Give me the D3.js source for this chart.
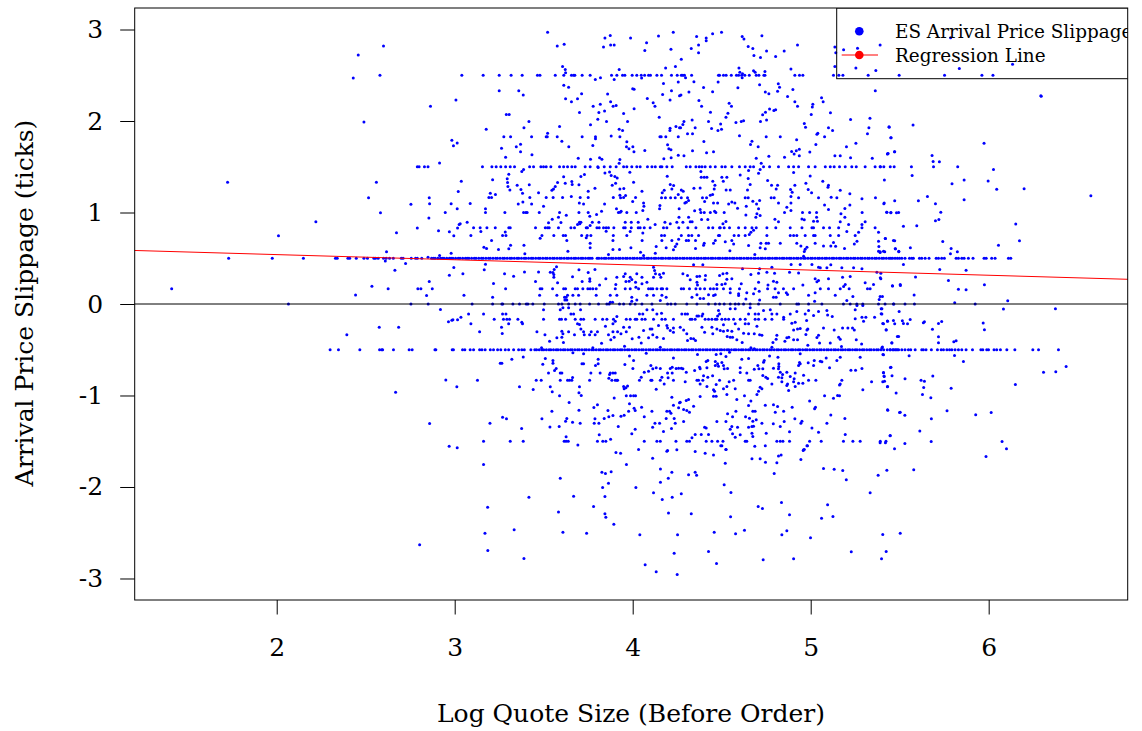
<!DOCTYPE html>
<html>
<head>
<meta charset="utf-8">
<script src="https://cdn.jsdelivr.net/npm/d3@7/dist/d3.min.js"></script>
<style>
  html, body { margin: 0; background: #fff; }
  svg { display: block; }
  text { font-family: "DejaVu Serif", serif; fill: #000; }
</style>
</head>
<body>
<div id="chart"></div>
<script>
const xTicks = [2, 3, 4, 5, 6];
const yTicks = [-3, -2, -1, 0, 1, 2, 3];
const xTitle = "Log Quote Size (Before Order)";
const yTitle = "Arrival Price Slippage (ticks)";
const legendLabels = ["ES Arrival Price Slippage", "Regression Line"];

// regression line, read at the two edges of the plot
const regX = [1.2022, 6.781];
const regY = [0.585, 0.27];

// slippage sits on tick fractions a lot, so these rows are x values only
const rowUp25 = [2.58,3.04,3.16,3.25,3.317,3.379,3.465,3.479,3.565,3.613,3.656,3.668,3.675,3.716,3.761,3.881,3.911,3.943,3.956,3.997,4.023,4.048,4.067,4.089,4.10,4.136,4.162,4.218,4.25,4.273,4.282,4.291,4.331,4.482,4.488,4.51,4.525,4.554,4.583,4.595,4.612,4.63,4.655,4.694,4.709,4.737,4.743,4.911,4.937,4.956,5.128,5.158,5.181,5.323,5.497,5.752,5.962,6.024];
const rowUp15 = [2.79,2.80,2.83,2.85,3.156,3.209,3.233,3.259,3.286,3.312,3.336,3.421,3.443,3.484,3.499,3.514,3.54,3.589,3.612,3.634,3.658,3.677,3.733,3.761,3.804,3.84,3.874,3.907,3.949,3.967,3.995,4.023,4.042,4.083,4.108,4.127,4.155,4.164,4.192,4.222,4.301,4.323,4.355,4.374,4.389,4.407,4.436,4.464,4.501,4.52,4.557,4.6,4.632,4.66,4.679,4.735,4.769,4.819,4.876,4.904,4.932,4.988,5.025,5.082,5.11,5.132,5.162,5.194,5.231,5.256,5.306,5.362,5.39,5.392,5.411,5.447,5.469,5.566,5.69,5.826];
const rowUp1 = [3.173,3.282,3.387,3.4,3.407,3.475,3.589,3.698,3.75,3.92,3.967,4.02,4.383,4.402,4.436,4.467,4.514,4.853,4.954,4.994,5.033,5.289,5.451,5.494];
const rowUp83 = [3.106,3.143,3.181,3.228,3.304,3.312,3.454,3.509,3.522,3.531,3.583,3.653,3.673,3.739,3.746,3.799,3.812,3.836,3.851,3.864,3.894,3.949,3.958,3.992,4.031,4.042,4.065,4.098,4.173,4.192,4.259,4.31,4.355,4.426,4.45,4.488,4.492,4.514,4.544,4.595,4.632,4.67,4.694,4.754,4.804,4.885,4.951,5.007,5.016,5.072,5.106,5.157,5.288,5.362];
const rowUp75 = [3.091,3.269,3.288,3.49,3.557,3.61,3.623,3.713,3.744,3.765,3.891,3.967,4.162,4.179,4.273,4.314,4.332,4.37,4.482,4.488,4.57,4.595,4.632,4.754,4.885,4.904,4.922,4.969,5.016,5.025,5.11,5.157,5.25];
const rowUp50 = [1.73,1.975,2.15,2.33,2.34,2.40,2.41,2.447,2.49,2.51,2.546,2.555,2.57,2.60,2.615,2.634,2.655,2.70,2.71,2.756,2.78,2.79,2.815,
  2.87,2.88,2.89,2.905,2.92,2.93,2.94,2.955,2.97,2.98,2.99,3.005,3.02,3.03,3.045,3.06,3.07,3.08,3.095,3.11,3.12,3.135,3.15,3.16,3.175,3.19,3.2,3.215,3.23,3.24,3.255,3.27,3.28,3.295,3.31,3.32,3.335,3.35,3.36,3.375,3.39,3.4,3.415,3.43,3.44,3.455,3.47,3.48,3.495,3.51,3.52,3.535,3.55,3.56,3.575,3.59,3.6,3.615,3.63,3.64,3.655,3.67,3.68,3.695,3.71,3.72,3.735,3.75,3.76,3.772,3.80,3.81,3.825,3.84,3.85,3.865,3.88,3.89,3.905,3.92,3.93,3.945,3.96,3.97,3.985,4.0,4.01,4.025,4.04,4.05,4.065,4.08,4.09,4.105,4.12,4.13,4.145,4.16,4.17,4.185,4.2,4.21,4.225,4.24,4.25,4.265,4.28,4.29,4.305,4.32,4.33,4.345,4.36,4.37,4.385,4.4,4.41,4.425,4.44,4.45,4.465,4.48,4.49,4.505,4.52,4.53,4.545,4.56,4.57,4.585,4.6,4.61,4.625,4.64,4.65,4.665,4.68,4.69,4.705,4.72,4.73,4.745,4.76,4.77,4.785,4.8,4.81,4.825,4.84,4.85,4.865,4.88,4.89,4.905,4.92,4.93,4.945,4.96,4.97,4.985,5.0,5.01,5.025,5.04,5.05,5.065,5.08,5.09,5.105,5.12,5.13,5.145,5.16,5.17,5.185,5.2,5.21,5.225,5.24,5.25,5.265,5.28,5.29,5.305,5.32,5.33,5.345,5.36,5.37,5.385,5.4,5.41,5.425,5.44,5.45,5.46,5.474,5.487,
  5.499,5.512,5.53,5.555,5.568,5.577,5.611,5.624,5.643,5.665,5.705,5.718,5.736,5.751,5.817,5.83,5.849,5.862,5.886,5.912,5.974,5.986,6.017,6.036,6.111,6.124];
const rowUp17 = [1.41,2.626,2.793,2.81,2.874,3.286,3.48,3.49,3.55,3.612,3.623,3.677,3.69,3.72,3.748,3.761,3.776,3.795,3.902,3.958,3.986,4.033,4.089,4.102,4.113,4.136,4.16,4.168,4.192,4.273,4.286,4.319,4.355,4.379,4.404,4.436,4.454,4.473,4.51,4.548,4.6,4.688,4.758,4.8,4.847,4.904,5.054,5.1,5.166,5.216,5.319,5.334];
const rowZero = [2.066,2.754,2.851,3.098,3.213,3.265,3.27,3.327,3.364,3.402,3.411,3.439,3.503,3.583,3.602,3.64,3.677,3.705,3.758,3.808,3.855,3.868,3.926,3.949,3.986,4.014,4.052,4.108,4.196,4.215,4.239,4.304,4.361,4.426,4.464,4.488,4.514,4.548,4.576,4.595,4.623,4.66,4.707,4.829,4.922,4.932,4.988,5.063,5.184,5.222,5.259,5.293,5.381,5.418,5.465,5.467,5.53,5.583,5.924];
const rowDown17 = [3.222,3.274,3.293,3.308,3.355,3.499,3.589,3.6,3.623,3.677,3.709,3.724,3.789,3.831,3.855,3.892,3.964,3.986,4.014,4.023,4.052,4.07,4.117,4.164,4.183,4.229,4.323,4.333,4.351,4.407,4.426,4.445,4.464,4.473,4.501,4.52,4.539,4.567,4.604,4.632,4.688,4.707,4.744,4.782,4.848];
const rowDown50 = [2.30,2.347,2.467,2.578,2.59,2.595,2.656,2.744,2.761,2.889,2.894,2.986,2.993,3.044,3.057,3.087,3.106,3.14,3.153,3.171,3.2,3.218,3.241,3.259,3.284,3.303,3.331,3.359,3.377,3.391,3.428,
  3.45,3.46,3.475,3.49,3.5,3.515,3.53,3.54,3.555,3.57,3.58,3.595,3.61,3.62,3.635,3.65,3.66,3.675,3.69,3.7,3.715,3.73,3.74,3.755,3.77,3.78,3.795,3.81,3.82,3.835,3.85,3.86,3.875,3.89,3.9,3.915,3.93,3.94,3.955,3.97,3.98,3.995,4.01,4.02,4.035,4.05,4.06,4.075,4.09,4.1,4.115,4.13,4.14,4.155,4.17,4.18,4.195,4.21,4.22,4.235,4.25,4.26,4.275,4.29,4.3,4.315,4.33,4.34,4.355,4.37,4.38,4.395,4.41,4.42,4.435,4.45,4.46,4.475,4.49,4.5,4.515,4.53,4.54,4.555,4.57,4.58,4.595,4.61,4.62,4.635,4.65,4.66,4.675,4.69,4.7,4.715,4.73,4.74,4.755,4.77,4.78,4.795,4.81,4.82,4.835,4.85,4.86,4.875,4.89,4.9,4.915,4.93,4.94,4.955,4.97,4.98,4.995,5.01,5.02,5.035,5.05,5.06,5.075,5.09,5.1,5.115,5.13,5.14,5.155,5.17,5.18,5.195,5.21,5.22,5.235,5.25,5.26,5.275,5.29,5.3,5.315,5.33,5.34,5.355,5.37,5.38,5.395,5.41,5.43,
  5.446,5.461,5.474,5.487,5.512,5.53,5.549,5.562,5.587,5.624,5.633,5.648,5.678,5.712,5.733,5.746,5.765,5.78,5.793,5.811,5.83,5.849,5.873,5.909,5.956,5.967,5.989,5.999,6.03,6.045,6.066,6.102,6.147,6.248,6.28,6.392];
const rowDown83 = [3.128,3.458,3.486,3.593,3.634,3.645,3.658,3.758,3.883,3.902,3.911,3.915,4.038,4.102,4.108,4.155,4.229,4.361,4.37,4.394,4.488,4.567,4.651,4.66,4.988,5.029,5.175];
const rowDown150 = [3.162,3.312,3.385,3.615,3.626,3.638,3.802,3.832,3.849,4.065,4.136,4.155,4.243,4.304,4.319,4.413,4.445,4.477,4.507,4.632,4.641,4.81,4.829,4.844,4.881,4.994,5.059,5.184,5.237,5.278,5.391,5.423];

const rowValues = [2.5, 1.5, 1, 0.833, 0.75, 0.5, 0.167, 0, -0.167, -0.5, -0.833, -1.5];
const rowXs = [rowUp25, rowUp15, rowUp1, rowUp83, rowUp75, rowUp50, rowUp17, rowZero, rowDown17, rowDown50, rowDown83, rowDown150];

// the rest of the points, [log size, slippage]
const leftPoints = [[2.60,2.82],[2.458,2.72],[2.43,2.47],[3.007,2.23],[2.864,2.16],[2.49,1.99],[2.984,1.79],[3.014,1.76],[2.993,1.73],[2.915,1.54],[1.724,1.33],[2.56,1.33],[3.02,1.23],[2.516,1.16],[2.857,1.16],[2.859,1.095],[2.98,1.095],[2.754,1.09],[3.014,1.04],[2.583,0.997],[2.947,1.0],[2.855,0.94],[2.22,0.90],[3.025,0.87],[3.016,0.83],[2.79,0.83],[2.909,0.80],[2.673,0.78],[2.97,0.79],[2.995,0.745],[2.01,0.745],[2.617,0.57],[2.98,0.555],[2.915,0.53],[2.85,0.51],[2.61,0.47],[2.724,0.443],[2.664,0.37],[2.995,0.40],[2.97,0.315],[2.857,0.246],[2.535,0.195],[2.443,0.097],[2.842,0.093],[2.92,-0.06],[2.965,-0.195],[2.984,-0.177],[2.99,-0.173],[3.016,-0.173],[2.576,-0.253],[2.685,-0.253],[2.394,-0.337],[2.95,-0.83],[3.012,-0.905],[2.668,-0.964],[2.859,-1.306],[2.969,-1.554],[3.014,-1.572],[2.803,-2.63]];

const topPoints = [[3.522,2.97],[3.576,2.82],[3.615,2.84],[3.844,2.906],[3.874,2.935],[3.836,2.81],[3.876,2.83],[3.896,2.83],[3.988,2.906],[4.078,2.855],[4.068,2.77],[4.145,2.928],[4.228,2.97],[4.215,2.785],[3.606,2.596],[3.621,2.563],[3.623,2.527],[3.924,2.563],[4.185,2.578],[4.24,2.596],[3.79,2.454],[3.819,2.472],[3.896,2.454],[4.05,2.47],[3.613,2.392],[3.64,2.37],[3.25,2.33],[3.36,2.33],[3.385,2.283],[3.713,2.297],[3.69,2.243],[3.623,2.243],[3.656,2.21],[3.859,2.294],[4.0,2.352],[4.008,2.348],[4.173,2.41],[4.256,2.425],[4.218,2.33],[4.168,2.29],[4.263,2.275],[4.21,2.23],[4.082,2.246],[4.115,2.2],[4.125,2.162],[3.818,2.184],[3.778,2.162],[3.876,2.21],[3.89,2.162],[3.907,2.17],[3.81,2.093],[3.842,2.11],[3.701,2.093],[3.949,2.082],[4.008,2.133],[3.804,2.02],[3.853,1.995],[3.971,1.995],[4.149,2.04],[3.29,2.07],[3.306,2.07],[3.417,1.995],[3.763,1.958],[3.589,1.94],[3.389,1.926],[3.177,1.91],[3.924,1.91],[3.943,1.897],[4.21,1.922],[4.209,1.897],[4.243,1.94],[4.263,1.926],[3.522,1.867],[3.276,1.827],[3.314,1.827],[3.432,1.827],[3.514,1.827],[3.52,1.827],[3.576,1.827],[3.716,1.827],[3.791,1.827],[3.791,1.805],[3.879,1.835],[3.928,1.827],[4.153,1.827],[4.16,1.827],[4.186,1.827],[4.256,1.827],[3.602,1.78],[3.37,1.747],[3.346,1.718],[3.263,1.703],[3.37,1.663],[3.286,1.605],[3.434,1.63],[3.641,1.718],[3.776,1.732],[3.967,1.772],[3.965,1.718],[3.979,1.696],[4.001,1.718],[4.007,1.663],[4.068,1.678],[4.196,1.74],[4.203,1.696],[4.215,1.685],[4.256,1.627],[3.694,1.594],[3.763,1.583],[3.814,1.598],[3.827,1.583],[3.928,1.58],[4.175,1.587],[4.216,1.598],
[4.499,2.97],[4.449,2.953],[4.359,2.924],[4.413,2.906],[4.413,2.877],[4.37,2.83],[4.329,2.793],[4.37,2.745],[4.273,2.676],[4.615,2.924],[4.625,2.895],[4.726,2.931],[4.649,2.815],[4.675,2.793],[4.681,2.716],[4.718,2.694],[4.752,2.764],[4.803,2.705],[4.851,2.764],[4.926,2.83],[5.136,2.81],[5.185,2.78],[5.141,2.745],[5.263,2.796],[5.39,2.83],[5.136,2.596],[5.254,2.578],[5.366,2.552],[5.835,2.574],[6.134,2.62],[6.295,2.27],[5.786,2.909],[5.363,2.33],[4.597,2.578],[4.602,2.534],[4.617,2.516],[4.615,2.472],[4.679,2.549],[4.688,2.534],[4.743,2.541],[4.889,2.567],[4.297,2.472],[4.344,2.428],[4.48,2.425],[4.398,2.367],[4.591,2.363],[4.449,2.319],[4.316,2.316],[4.271,2.283],[4.713,2.396],[4.745,2.316],[4.765,2.297],[4.818,2.407],[4.825,2.37],[4.814,2.326],[4.9,2.345],[4.87,2.268],[4.911,2.21],[4.926,2.162],[5.061,2.254],[5.07,2.21],[5.012,2.184],[5.009,2.152],[5.003,2.071],[5.111,2.09],[5.224,2.017],[5.333,2.03],[4.372,2.224],[4.387,2.162],[4.542,2.195],[4.555,2.162],[4.437,2.097],[4.535,2.086],[4.524,2.04],[4.334,2.01],[4.288,1.995],[4.282,1.962],[4.269,1.926],[4.351,1.926],[4.426,1.995],[4.494,1.966],[4.443,1.918],[4.479,1.897],[4.499,1.91],[4.58,1.984],[4.61,1.995],[4.623,2.002],[4.718,1.995],[4.752,2.01],[4.73,2.068],[4.746,2.097],[4.769,2.13],[4.793,2.115],[4.803,2.122],[4.964,1.973],[4.971,1.933],[5.10,1.926],[5.123,1.897],[5.327,1.926],[5.441,1.933],[5.319,1.86],[5.45,1.816],[4.308,1.86],[4.336,1.86],[4.6,1.838],[4.67,1.78],[4.662,1.744],[4.75,1.827],[4.829,1.827],[4.921,1.795],[5.04,1.867],[5.035,1.856],[5.078,1.827],[5.029,1.744],[5.254,1.758],[5.201,1.718],[4.4,1.776],[4.336,1.674],[4.415,1.652],[4.454,1.663],[4.705,1.718],[4.936,1.692],[4.919,1.674],[4.893,1.667],[4.907,1.638],[4.995,1.66],[4.936,1.62],[5.471,1.663],[5.432,1.641],[4.288,1.62],[4.694,1.594],[4.765,1.616],[4.853,1.605],[5.136,1.62],[5.166,1.62],[5.224,1.598],[5.346,1.594]];

const upperMidPoints = [[3.924,1.539],[3.377,1.448],[3.387,1.47],[3.304,1.419],[3.295,1.368],[3.297,1.328],[3.299,1.284],[3.31,1.247],[3.213,1.357],[3.037,1.342],[3.351,1.298],[3.372,1.251],[3.381,1.211],[3.419,1.302],[3.546,1.244],[3.555,1.258],[3.565,1.284],[3.578,1.328],[3.612,1.39],[3.621,1.32],[3.658,1.338],[3.66,1.306],[3.698,1.302],[3.709,1.393],[3.729,1.415],[3.75,1.233],[3.788,1.266],[3.806,1.492],[3.844,1.433],[3.87,1.444],[3.879,1.404],[3.9,1.393],[3.913,1.378],[3.885,1.298],[3.904,1.32],[3.984,1.44],[4.005,1.331],[3.928,1.258],[3.95,1.262],[4.052,1.233],[4.194,1.397],[4.211,1.306],[4.23,1.295],[4.177,1.244],[4.166,1.215],[4.256,1.196],[4.22,1.258],[3.2,1.211],[3.192,1.164],[3.207,1.164],[3.229,1.196],[3.087,1.098],[3.422,1.164],[3.471,1.215],[3.514,1.164],[3.553,1.164],[3.606,1.164],[3.655,1.175],[3.75,1.164],[3.705,1.164],[3.7,1.105],[3.724,1.094],[3.383,1.116],[3.357,1.094],[3.432,1.094],[3.499,1.069],[3.842,1.094],[3.891,1.164],[3.928,1.189],[3.932,1.16],[3.949,1.164],[3.96,1.185],[4.016,1.164],[4.0,1.12],[4.061,1.105],[4.063,1.069],[4.057,1.022],[4.162,1.16],[4.184,1.16],[4.213,1.16],[4.239,1.16],[4.153,1.076],[4.151,1.04],[4.261,1.04],[3.909,1.04],[3.173,1.04],[3.825,1.014],[3.797,0.978],[3.935,1.014],[3.93,1.003],[3.583,0.949],[3.627,0.971],[3.548,0.927],[3.527,0.887],[3.701,0.894],[3.709,0.894],[3.69,0.869],[3.703,0.876],[3.759,0.96],[3.597,0.89],[3.07,0.894],[4.085,0.927],[3.958,0.894],[3.992,0.894],[4.031,0.894],[4.26,0.949],[4.126,0.869],[4.181,0.894],[4.211,0.876],[4.248,0.894],[3.773,0.894],[3.81,0.894],[3.761,0.858],[3.031,0.876],[3.284,0.788],[3.147,0.792],[3.48,0.719],[3.739,0.723],[3.851,0.796],[3.889,0.694],[3.986,0.792],[4.057,0.777],[4.164,0.694],[4.22,0.694],[4.258,0.708],[3.207,0.694],[3.63,0.694],[4.053,0.694],[3.761,0.664],[3.389,0.643],[3.314,0.643],[3.304,0.603],[3.164,0.621],[3.179,0.606],[3.246,0.595],[3.394,0.548],[3.636,0.577],[3.761,0.614],[3.889,0.595],[3.926,0.595],[3.99,0.614],[3.864,0.541],[4.044,0.566],[4.132,0.628],[4.127,0.555],[4.188,0.614],[4.229,0.592],[4.239,0.628],[4.248,0.657],[4.061,0.53],
[4.722,1.539],[4.716,1.47],[4.707,1.43],[4.604,1.411],[4.651,1.459],[4.383,1.448],[4.904,1.437],[4.997,1.4],[4.385,1.386],[4.402,1.386],[4.417,1.386],[4.501,1.386],[4.529,1.386],[4.45,1.342],[4.509,1.342],[4.649,1.371],[4.66,1.306],[4.758,1.349],[4.78,1.298],[4.814,1.298],[4.806,1.258],[4.911,1.298],[4.973,1.32],[5.068,1.342],[5.1,1.298],[5.097,1.277],[4.462,1.298],[4.344,1.266],[4.379,1.269],[4.458,1.258],[4.525,1.247],[4.548,1.247],[4.645,1.247],[4.887,1.251],[4.986,1.251],[5.166,1.244],[4.273,1.247],[4.284,1.233],[4.449,1.196],[4.436,1.189],[4.896,1.222],[5.005,1.215],[5.22,1.204],[4.392,1.16],[4.415,1.16],[4.308,1.16],[4.273,1.16],[4.632,1.16],[4.649,1.16],[4.778,1.16],[4.795,1.16],[4.889,1.175],[4.932,1.16],[5.044,1.16],[5.115,1.167],[5.147,1.16],[5.288,1.149],[5.364,1.16],[4.314,1.131],[4.301,1.113],[4.293,1.105],[4.404,1.12],[4.454,1.105],[4.477,1.105],[4.539,1.094],[4.557,1.116],[4.574,1.105],[4.675,1.124],[4.713,1.131],[4.696,1.094],[4.819,1.105],[4.889,1.105],[5.22,1.083],[5.078,1.083],[5.413,1.105],[4.589,1.047],[4.638,1.069],[4.707,1.04],[4.866,1.058],[5.1,1.033],[5.192,1.043],[4.348,1.018],[4.379,1.033],[4.46,1.014],[4.636,0.974],[4.698,0.985],[4.692,0.949],[4.716,0.967],[4.889,1.022],[5.17,0.985],[5.428,1.003],[4.282,0.894],[4.314,0.949],[4.387,0.923],[4.422,0.923],[4.323,0.898],[4.334,0.898],[4.524,0.901],[4.507,0.876],[4.799,0.927],[4.819,0.898],[4.951,0.93],[4.964,0.92],[5.033,0.949],[5.016,0.905],[5.038,0.905],[5.166,0.898],[5.192,0.949],[5.306,0.898],[5.288,0.869],[5.213,0.869],[4.679,0.807],[4.664,0.785],[4.655,0.759],[5.203,0.792],[5.269,0.785],[5.381,0.785],[4.301,0.694],[4.314,0.694],[4.353,0.694],[4.402,0.664],[4.398,0.643],[4.464,0.694],[4.454,0.664],[4.52,0.679],[4.557,0.694],[4.567,0.657],[4.651,0.639],[4.72,0.664],[4.75,0.664],[4.763,0.664],[4.716,0.614],[4.745,0.603],[4.829,0.664],[4.922,0.664],[4.945,0.635],[4.979,0.621],[4.969,0.599],[4.964,0.574],[5.025,0.664],[5.072,0.635],[5.113,0.635],[5.128,0.672],[5.14,0.632],[5.19,0.606],[5.26,0.686],[5.245,0.657],[5.381,0.686],[5.419,0.716],[5.465,0.694],[5.383,0.628],[5.381,0.577],[5.39,0.562],[5.409,0.577],[5.475,0.603],[5.495,0.577],[4.353,0.606],[4.546,0.581],[4.686,0.541],[4.96,0.522]];

const lowerMidPoints = [[3.173,0.435],[3.166,0.373],[3.046,0.33],[3.28,0.33],[3.392,0.351],[3.331,0.304],[3.471,0.351],[3.572,0.406],[3.559,0.377],[3.552,0.344],[3.557,0.322],[3.557,0.293],[3.537,0.348],[3.698,0.373],[3.788,0.377],[3.75,0.344],[3.662,0.297],[3.759,0.275],[3.759,0.249],[3.716,0.246],[3.454,0.246],[3.218,0.224],[3.578,0.231],[3.814,0.209],[3.905,0.213],[3.849,0.275],[3.911,0.293],[3.949,0.3],[3.958,0.33],[3.986,0.293],[4.023,0.33],[4.052,0.293],[4.123,0.366],[4.117,0.402],[4.128,0.33],[4.151,0.322],[4.173,0.337],[4.117,0.293],[4.158,0.293],[4.016,0.238],[4.08,0.238],[4.052,0.22],[3.98,0.249],[3.962,0.246],[3.995,0.268],[4.018,0.184],[3.052,0.096],[3.213,0.074],[3.477,0.096],[3.574,0.096],[3.617,0.074],[3.634,0.096],[3.626,0.074],[3.664,0.096],[3.696,0.096],[3.795,0.096],[3.874,0.096],[3.911,0.096],[3.995,0.074],[4.08,0.096],[4.117,0.096],[4.164,0.096],[4.188,0.074],[3.63,0.045],[3.619,0.045],[3.887,0.02],[3.874,0.02],[4.023,0.045],[3.995,0.03],[4.155,0.038],
[4.342,0.428],[4.394,0.428],[4.282,0.33],[4.308,0.311],[4.361,0.3],[4.376,0.304],[4.409,0.311],[4.488,0.311],[4.507,0.33],[4.529,0.337],[4.557,0.275],[4.617,0.384],[4.713,0.384],[4.664,0.322],[4.707,0.337],[4.754,0.348],[4.797,0.337],[4.881,0.348],[4.932,0.34],[4.782,0.402],[4.89,0.431],[4.941,0.431],[5.007,0.431],[5.044,0.402],[5.054,0.395],[5.091,0.395],[5.113,0.428],[5.175,0.395],[5.241,0.395],[5.288,0.384],[5.394,0.337],[5.372,0.348],[5.391,0.286],[5.222,0.3],[5.179,0.293],[5.025,0.275],[5.044,0.257],[5.035,0.242],[5.1,0.275],[5.306,0.231],[5.46,0.198],[5.503,0.213],[4.323,0.264],[4.361,0.238],[4.364,0.209],[4.407,0.264],[4.473,0.213],[4.501,0.213],[4.52,0.22],[4.529,0.271],[4.61,0.22],[4.707,0.238],[4.791,0.249],[4.81,0.238],[4.76,0.209],[4.956,0.209],[5.194,0.213],[5.185,0.191],[5.353,0.213],[4.361,0.1],[4.426,0.1],[4.464,0.1],[4.548,0.122],[4.595,0.111],[4.641,0.122],[4.679,0.111],[4.711,0.14],[4.819,0.122],[4.863,0.122],[4.87,0.104],[4.988,0.096],[5.025,0.122],[5.138,0.096],[5.237,0.082],[5.39,0.082],[5.385,0.049],[4.379,0.06],[4.398,0.06],[4.333,0.074],[4.454,0.093],[4.636,0.056],[4.791,0.074],[4.806,0.074],[4.713,0.045],[4.595,0.093],[5.022,0.031],[5.203,0.038],
[3.499,-0.064],[3.707,-0.064],[3.593,-0.064],[3.608,-0.042],[3.64,-0.042],[3.035,-0.144],[3.078,-0.108],[3.162,-0.108],[3.269,-0.108],[3.288,-0.108],[3.653,-0.108],[3.668,-0.108],[3.911,-0.137],[4.038,-0.108],[4.057,-0.108],[4.08,-0.064],[4.113,-0.064],[4.136,-0.108],[4.162,-0.1],[3.091,-0.217],[3.303,-0.217],[3.377,-0.199],[3.381,-0.217],[3.69,-0.217],[3.701,-0.224],[3.889,-0.217],[3.902,-0.188],[3.847,-0.243],[3.263,-0.253],[3.709,-0.272],[3.949,-0.253],[3.982,-0.253],[4.108,-0.272],[4.192,-0.235],[4.196,-0.261],[4.145,-0.235],[4.229,-0.261],[3.14,-0.304],[3.267,-0.323],[3.462,-0.304],[3.507,-0.337],[3.602,-0.297],[3.608,-0.326],[3.64,-0.304],[3.673,-0.337],[3.724,-0.304],[3.728,-0.337],[3.758,-0.337],[3.767,-0.304],[3.789,-0.337],[3.802,-0.304],[3.864,-0.337],[3.889,-0.304],[3.915,-0.304],[3.934,-0.326],[3.964,-0.304],[4.035,-0.363],[4.061,-0.29],[4.098,-0.272],[4.113,-0.337],[4.136,-0.363],[4.211,-0.29],[4.229,-0.308],[3.602,-0.363],[3.574,-0.37],[3.533,-0.407],[3.611,-0.421],[3.825,-0.428],[3.877,-0.392],[3.896,-0.363],[3.997,-0.381],[4.089,-0.37],[4.173,-0.377],[4.048,-0.425],[3.488,-0.479],[3.776,-0.479],[3.954,-0.461],[4.155,-0.472],
[4.276,-0.108],[4.295,-0.108],[4.308,-0.108],[4.361,-0.13],[4.37,-0.13],[4.394,-0.108],[4.389,-0.13],[4.482,-0.071],[4.488,-0.108],[4.477,-0.13],[4.576,-0.053],[4.548,-0.053],[4.66,-0.042],[4.651,-0.108],[4.688,-0.108],[4.707,-0.108],[4.735,-0.071],[4.773,-0.064],[4.782,-0.108],[4.81,-0.108],[4.848,-0.144],[4.885,-0.108],[4.922,-0.082],[4.969,-0.108],[4.988,-0.071],[5.016,-0.126],[5.044,-0.082],[5.091,-0.071],[5.095,-0.119],[5.121,-0.137],[5.25,-0.064],[5.25,-0.162],[5.26,-0.017],[5.293,-0.017],[5.288,-0.144],[5.31,-0.144],[5.297,-0.188],[5.359,-0.144],[5.4,-0.053],[5.4,-0.108],[5.409,-0.217],[5.432,-0.188],[5.424,-0.283],[5.465,-0.181],[4.913,-0.199],[4.894,-0.21],[4.977,-0.18],[4.632,-0.217],[4.651,-0.217],[4.698,-0.243],[4.51,-0.228],[4.576,-0.217],[4.389,-0.253],[4.445,-0.253],[4.473,-0.272],[4.492,-0.29],[4.51,-0.297],[4.533,-0.29],[4.557,-0.297],[4.595,-0.272],[4.623,-0.319],[4.651,-0.326],[4.683,-0.326],[4.713,-0.337],[4.726,-0.341],[4.81,-0.341],[4.877,-0.363],[4.866,-0.37],[4.904,-0.283],[4.926,-0.272],[4.941,-0.268],[4.973,-0.334],[4.979,-0.283],[4.984,-0.272],[5.072,-0.261],[5.132,-0.283],[5.044,-0.341],[5.035,-0.366],[5.157,-0.363],[5.166,-0.385],[5.179,-0.261],[5.209,-0.261],[5.235,-0.261],[5.245,-0.283],[5.256,-0.392],[5.286,-0.436],[4.267,-0.253],[4.286,-0.283],[4.304,-0.326],[4.404,-0.308],[4.45,-0.326],[4.531,-0.356],[4.548,-0.363],[4.561,-0.363],[4.327,-0.377],[4.342,-0.381],[4.353,-0.399],[4.308,-0.399],[4.585,-0.392],[4.615,-0.421],[4.788,-0.421],[4.806,-0.385],[4.855,-0.407],[4.904,-0.392],[4.926,-0.392],[4.984,-0.45],[5.05,-0.425],[5.11,-0.425],[5.173,-0.465],[4.664,-0.479],[4.683,-0.49],[5.456,-0.425],[5.494,-0.356],[5.4,-0.479],[4.782,-0.472],[5.447,-0.5],[5.465,-0.5],[5.48,-0.5],[5.494,-0.5]];

const bottomPoints = [[3.664,-0.534],[3.724,-0.545],[4.229,-0.589],[3.982,-0.567],[4.076,-0.537],[3.321,-0.603],[3.385,-0.578],[3.509,-0.596],[3.552,-0.618],[3.552,-0.647],[3.495,-0.658],[3.256,-0.647],[3.265,-0.647],[3.715,-0.654],[3.724,-0.654],[3.806,-0.603],[3.806,-0.654],[3.791,-0.672],[4.005,-0.618],[3.956,-0.661],[4.001,-0.705],[4.102,-0.672],[4.113,-0.709],[4.132,-0.698],[4.155,-0.705],[4.211,-0.705],[4.222,-0.691],[4.244,-0.705],[4.258,-0.701],[3.57,-0.705],[3.561,-0.727],[3.527,-0.753],[3.593,-0.753],[3.602,-0.753],[3.765,-0.753],[3.817,-0.753],[3.874,-0.753],[3.889,-0.753],[3.902,-0.753],[3.87,-0.771],[4.065,-0.745],[4.089,-0.734],[4.196,-0.753],[4.222,-0.753],[4.164,-0.8],[4.199,-0.807],[4.048,-0.8],[3.866,-0.811],[3.662,-0.804],[3.364,-0.905],[3.441,-0.935],[3.537,-0.905],[3.548,-0.96],[3.701,-0.905],[3.698,-0.971],[3.711,-1.0],[3.589,-1.004],[3.949,-0.902],[3.962,-0.916],[3.952,-0.927],[3.971,-0.895],[3.964,-1.004],[3.988,-1.004],[4.005,-1.004],[4.016,-1.004],[3.896,-1.026],[4.132,-0.931],[4.177,-0.873],[4.22,-1.018],[3.643,-1.077],[3.782,-1.131],[3.802,-1.102],[3.982,-1.091],[4.008,-1.139],[4.014,-1.164],[4.05,-1.128],[4.229,-1.106],[4.263,-1.08],[4.258,-1.135],[4.192,-1.171],[4.207,-1.171],[4.215,-1.193],[3.546,-1.171],[3.698,-1.16],[3.861,-1.164],[3.977,-1.171],[4.108,-1.171],[3.866,-1.233],[3.889,-1.219],[3.934,-1.226],[3.952,-1.215],[4.065,-1.233],[4.188,-1.252],[4.233,-1.252],[3.269,-1.237],[3.291,-1.255],[3.198,-1.303],[3.49,-1.255],[3.63,-1.252],[3.623,-1.281],[3.662,-1.292],[3.705,-1.303],[3.788,-1.255],[3.784,-1.303],[3.81,-1.303],[3.84,-1.252],[3.535,-1.343],[3.587,-1.339],[3.376,-1.361],[3.919,-1.339],[4.112,-1.346],[4.125,-1.303],[4.151,-1.303],[4.173,-1.394],[4.218,-1.361],[4.239,-1.303],[4.014,-1.368],[3.995,-1.419],[3.812,-1.43],[3.876,-1.477],[3.626,-1.452],[3.692,-1.54],[4.033,-1.59],[4.196,-1.6],
[4.364,-0.552],[4.469,-0.552],[4.495,-0.545],[4.524,-0.574],[4.544,-0.527],[4.769,-0.567],[4.816,-0.581],[4.613,-0.603],[4.651,-0.596],[4.941,-0.545],[5.406,-0.552],[5.166,-0.581],[5.147,-0.618],[5.278,-0.581],[4.422,-0.618],[4.413,-0.629],[4.464,-0.629],[4.501,-0.64],[4.477,-0.654],[4.739,-0.618],[4.735,-0.636],[4.937,-0.64],[4.986,-0.643],[5.02,-0.618],[5.054,-0.625],[5.063,-0.632],[5.087,-0.589],[4.703,-0.672],[4.709,-0.709],[4.821,-0.654],[4.821,-0.683],[4.604,-0.698],[4.376,-0.691],[4.379,-0.709],[4.417,-0.698],[4.464,-0.672],[4.482,-0.68],[4.51,-0.672],[4.514,-0.709],[4.533,-0.705],[4.731,-0.709],[4.791,-0.701],[4.819,-0.709],[4.932,-0.672],[4.941,-0.654],[5.016,-0.672],[5.106,-0.698],[5.226,-0.723],[5.252,-0.723],[5.288,-0.705],[5.451,-0.691],[4.273,-0.701],[4.282,-0.709],[4.301,-0.745],[4.348,-0.727],[4.641,-0.753],[4.604,-0.749],[4.683,-0.712],[4.731,-0.782],[4.748,-0.8],[4.758,-0.815],[4.829,-0.745],[4.842,-0.771],[4.866,-0.745],[4.913,-0.753],[4.96,-0.778],[4.819,-0.8],[4.838,-0.807],[4.885,-0.793],[4.907,-0.818],[5.409,-0.749],[5.413,-0.793],[4.398,-0.785],[4.449,-0.785],[4.422,-0.8],[4.295,-0.851],[4.542,-0.851],[4.782,-0.873],[4.838,-0.851],[4.904,-0.851],[4.932,-0.865],[4.956,-0.865],[5.166,-0.873],[5.162,-0.884],[5.342,-0.851],[5.415,-0.843],[5.432,-0.902],[5.293,-0.938],[4.379,-0.873],[4.417,-0.902],[4.469,-0.88],[4.454,-0.938],[4.46,-0.953],[4.51,-0.927],[4.529,-0.902],[4.576,-0.927],[4.716,-0.909],[4.726,-0.927],[4.87,-0.873],[4.866,-0.891],[4.876,-0.945],[4.913,-0.902],[4.707,-0.953],[4.698,-0.99],[4.529,-0.99],[4.628,-1.004],[4.454,-1.008],[4.469,-1.008],[4.379,-1.011],[4.585,-1.044],[4.664,-1.059],[4.994,-1.059],[5.078,-1.004],[5.128,-1.029],[5.151,-1.0],[5.162,-1.004],[4.314,-1.044],[4.301,-1.055],[4.267,-1.073],[4.651,-1.11],[4.745,-1.106],[4.791,-1.102],[4.814,-1.12],[4.896,-1.128],[5.027,-1.128],[5.022,-1.146],[5.432,-1.157],[4.342,-1.117],[4.286,-1.153],[4.304,-1.164],[4.319,-1.182],[4.58,-1.171],[4.675,-1.171],[4.688,-1.171],[4.801,-1.182],[4.848,-1.171],[4.533,-1.2],[4.561,-1.233],[4.634,-1.233],[5.113,-1.212],[5.503,-1.182],[4.656,-1.248],[4.675,-1.281],[4.694,-1.266],[4.473,-1.284],[4.524,-1.284],[4.286,-1.284],[4.911,-1.255],[4.951,-1.281],[4.945,-1.303],[4.851,-1.284],[4.79,-1.31],[4.726,-1.303],[4.829,-1.339],[5.091,-1.303],[5.192,-1.252],[4.404,-1.346],[4.413,-1.354],[4.557,-1.339],[4.589,-1.346],[4.548,-1.368],[4.651,-1.346],[4.67,-1.339],[4.679,-1.335],[5.007,-1.354],[5.044,-1.401],[4.881,-1.397],[4.75,-1.412],[4.67,-1.412],[4.675,-1.448],[4.561,-1.419],[4.576,-1.456],[4.604,-1.43],[4.351,-1.426],[4.385,-1.426],[4.426,-1.426],[4.333,-1.463],[5.194,-1.426],[5.447,-1.437],[4.501,-1.55],[4.686,-1.554],[4.745,-1.55],[4.979,-1.55],[4.525,-1.59],[4.96,-1.594],[5.471,-1.583],
[3.162,-1.754],[3.906,-1.623],[3.932,-1.63],[4.112,-1.685],[4.192,-1.609],[4.248,-1.594],[4.351,-1.612],[4.407,-1.63],[4.454,-1.649],[4.523,-1.59],[4.495,-1.55],[4.52,-1.74],[4.67,-1.692],[4.716,-1.692],[4.746,-1.729],[4.81,-1.736],[4.819,-1.66],[4.834,-1.649],[4.795,-1.853],[4.945,-1.7],[4.958,-1.601],[4.964,-1.59],[4.982,-1.55],[5.072,-1.798],[5.132,-1.805],[5.18,-1.82],[5.2,-1.922],[5.379,-1.871],[5.428,-1.816],[5.334,-2.064],[3.965,-1.754],[3.827,-1.838],[3.847,-1.853],[3.879,-1.834],[3.864,-1.958],[3.831,-2.006],[3.593,-1.904],[4.018,-2.006],[4.156,-1.802],[4.22,-1.838],[4.156,-1.947],[4.2,-1.904],[4.314,-1.867],[4.351,-1.838],[4.359,-1.871],[4.514,-1.976],[4.552,-2.06],[4.117,-2.064],[4.273,-2.075],[4.166,-2.137],[4.222,-2.111],[3.844,-2.104],[3.668,-2.1],[3.417,-2.111],[3.185,-2.221],[3.583,-2.272],[3.78,-2.213],[3.844,-2.293],[3.849,-2.33],[3.894,-2.406],[4.201,-2.283],[4.329,-2.293],[4.55,-2.326],[4.705,-2.213],[4.729,-2.235],[4.836,-2.17],[4.881,-2.304],[5.095,-2.195],[5.125,-2.322],[5.061,-2.341],[3.17,-2.505],[3.334,-2.468],[3.608,-2.494],[3.741,-2.505],[4.04,-2.523],[4.252,-2.523],[4.458,-2.494],[4.578,-2.512],[4.628,-2.472],[4.838,-2.523],[4.866,-2.479],[4.999,-2.556],[5.405,-2.519],[5.503,-2.505],[3.186,-2.694],[3.389,-2.782],[4.233,-2.723],[4.426,-2.705],[5.228,-2.709],[5.424,-2.705],[5.398,-2.785],[4.07,-2.851],[4.132,-2.927],[4.25,-2.956],[4.471,-2.836],[4.733,-2.796],[4.904,-2.785]];

const rightPoints = [[6.293,2.275],[5.575,1.955],[5.44,1.937],[5.452,1.816],[5.974,1.758],[5.435,1.645],[5.472,1.663],[5.431,1.638],[5.682,1.623],[5.688,1.558],[5.723,1.554],[6.027,1.47],[5.57,1.405],[5.414,1.354],[5.862,1.354],[5.794,1.314],[5.997,1.343],[6.045,1.255],[6.199,1.259],[6.574,1.183],[5.656,1.175],[5.605,1.128],[5.472,1.128],[5.862,1.139],[5.411,1.095],[5.701,1.095],[5.427,1.004],[5.45,0.997],[5.482,0.997],[5.731,1.004],[5.72,0.924],[5.701,0.909],[5.521,0.851],[5.596,0.855],[6.152,0.873],[6.173,0.691],[5.42,0.716],[5.472,0.691],[5.742,0.683],[6.055,0.643],[5.476,0.603],[5.56,0.614],[5.789,0.607],[5.495,0.571],[5.785,0.549],[5.824,0.571],[5.39,0.571],[5.416,0.571],[5.521,0.432],[5.725,0.377],[5.873,0.37],[5.589,0.294],[5.774,0.257],[5.394,0.275],[5.459,0.199],[5.504,0.203],[5.976,0.21],[5.83,0.162],[5.873,0.155],[5.581,0.097],[5.403,0.082],[6.107,0.035],[5.809,0.013],[6.375,-0.052],[6.083,-0.056],[5.497,-0.081],[5.396,-0.052],[5.396,-0.107],[5.559,-0.169],[5.431,-0.187],[5.515,-0.184],[5.405,-0.213],[5.472,-0.216],[5.521,-0.213],[5.544,-0.216],[5.633,-0.205],[5.639,-0.194],[5.718,-0.213],[5.736,-0.191],[5.969,-0.209],[5.976,-0.282],[5.684,-0.275],[5.424,-0.282],[5.487,-0.355],[5.718,-0.359],[5.718,-0.424],[5.804,-0.413],[5.817,-0.402],[5.456,-0.424],[5.403,-0.471],[5.409,-0.555],[5.553,-0.566],[5.808,-0.562],[5.858,-0.628],[5.448,-0.694],[6.435,-0.683],[6.308,-0.745],[6.377,-0.741],[5.409,-0.752],[5.412,-0.788],[5.457,-0.785],[5.686,-0.788],[5.53,-0.817],[5.62,-0.832],[5.639,-0.843],[5.405,-0.85],[5.431,-0.905],[5.635,-0.912],[5.789,-0.92],[6.15,-0.879],[5.48,-0.974],[5.628,-0.989],[5.675,-1.025],[5.433,-1.16],[5.499,-1.185],[5.529,-1.215],[5.766,-1.167],[5.927,-1.211],[6.014,-1.185],[5.678,-1.255],[5.613,-1.389],[5.446,-1.44],[5.677,-1.502],[6.075,-1.502],[6.1,-1.583],[5.985,-1.666],[5.529,-1.524],[5.39,-1.517],[5.42,-1.517],[5.579,-1.812]];

const width = 1142;
const height = 731;
const margin = { top: 8, right: 14.3, bottom: 131, left: 134.7 };

const svg = d3.select("#chart")
  .append("svg")
  .attr("width", width)
  .attr("height", height);

const x = d3.scaleLinear()
  .domain([1.2022, 6.781])
  .range([margin.left, width - margin.right]);

const y = d3.scaleLinear()
  .domain([-3.235, 3.235])
  .range([height - margin.bottom, margin.top]);

// flatten the rows and the loose points into one list
const points = [];
rowXs.forEach((xs, i) => xs.forEach(v => points.push([v, rowValues[i]])));
[leftPoints, topPoints, upperMidPoints, lowerMidPoints, bottomPoints, rightPoints]
  .forEach(list => list.forEach(p => points.push(p)));

svg.append("defs").append("clipPath")
  .attr("id", "plot-clip")
  .append("rect")
  .attr("x", margin.left)
  .attr("y", margin.top)
  .attr("width", width - margin.right - margin.left)
  .attr("height", height - margin.bottom - margin.top);

svg.append("g")
  .selectAll("circle")
  .data(points)
  .enter()
  .append("circle")
  .attr("cx", d => x(d[0]))
  .attr("cy", d => y(d[1]))
  .attr("r", 1.5)
  .attr("fill", "#0000ff");

// zero line and regression go over the points
svg.append("line")
  .attr("x1", x.range()[0])
  .attr("x2", x.range()[1])
  .attr("y1", y(0))
  .attr("y2", y(0))
  .attr("stroke", "#000")
  .attr("stroke-width", 1);

svg.append("line")
  .attr("x1", x(regX[0]))
  .attr("x2", x(regX[1]))
  .attr("y1", y(regY[0]))
  .attr("y2", y(regY[1]))
  .attr("stroke", "#ff0000")
  .attr("stroke-width", 1);

svg.append("rect")
  .attr("x", margin.left)
  .attr("y", margin.top)
  .attr("width", width - margin.right - margin.left)
  .attr("height", height - margin.bottom - margin.top)
  .attr("fill", "none")
  .attr("stroke", "#000");

// axes
const xAxis = svg.append("g")
  .attr("transform", `translate(0,${height - margin.bottom})`)
  .call(d3.axisBottom(x).tickValues(xTicks).tickFormat(String).tickSize(14.5).tickPadding(24));

const yAxis = svg.append("g")
  .attr("transform", `translate(${margin.left},0)`)
  .call(d3.axisLeft(y).tickValues(yTicks).tickFormat(String).tickSize(14.5).tickPadding(17));

[xAxis, yAxis].forEach(g => {
  g.select(".domain").remove();
  g.selectAll("line").attr("stroke", "#000");
  g.selectAll("text").style("font-size", "25px");
});

svg.append("text")
  .attr("x", 631)
  .attr("y", 722)
  .attr("text-anchor", "middle")
  .style("font-size", "25px")
  .text(xTitle);

svg.append("text")
  .attr("transform", "translate(33,303) rotate(-90)")
  .attr("text-anchor", "middle")
  .style("font-size", "25px")
  .text(yTitle);

// legend, no fill so the points show through it
const legend = svg.append("g").attr("clip-path", "url(#plot-clip)");

legend.append("rect")
  .attr("x", 836.7)
  .attr("y", 8)
  .attr("width", 400)
  .attr("height", 70.7)
  .attr("fill", "none")
  .attr("stroke", "#000");

legend.append("circle")
  .attr("cx", 859.3)
  .attr("cy", 31.3)
  .attr("r", 4.3)
  .attr("fill", "#0000ff");

legend.append("line")
  .attr("x1", 841.7)
  .attr("x2", 878)
  .attr("y1", 55)
  .attr("y2", 55)
  .attr("stroke", "#ff0000");

legend.append("circle")
  .attr("cx", 859.3)
  .attr("cy", 55)
  .attr("r", 4.3)
  .attr("fill", "#ff0000");

legend.selectAll("text")
  .data(legendLabels)
  .enter()
  .append("text")
  .attr("x", 895)
  .attr("y", (d, i) => 38 + i * 24)
  .style("font-size", "18.4px")
  .text(d => d);
</script>
</body>
</html>
